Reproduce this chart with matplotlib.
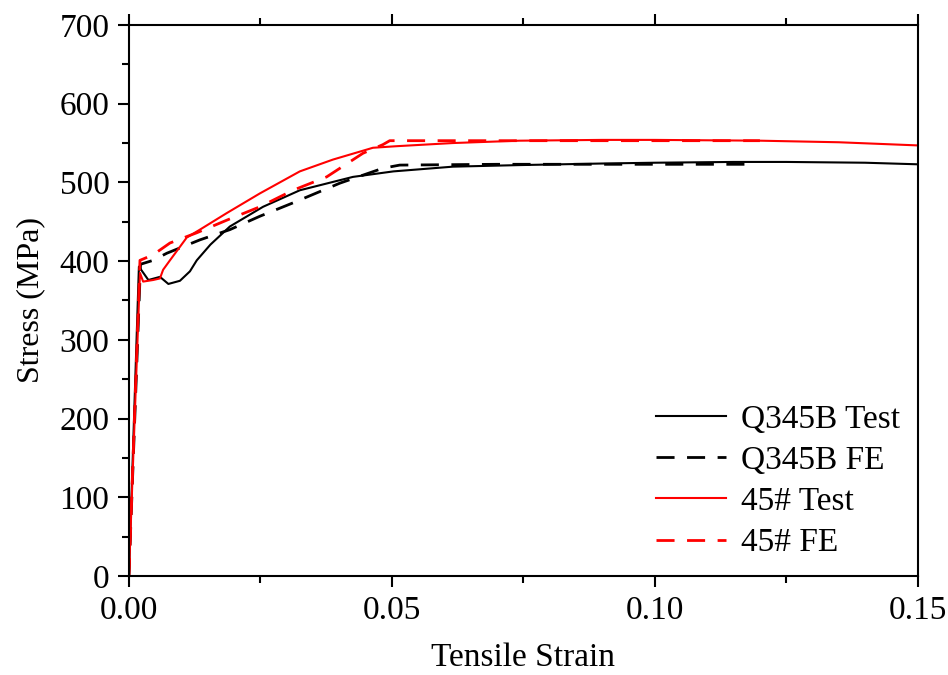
import numpy as np
import matplotlib
matplotlib.use("Agg")
import matplotlib.pyplot as plt
from matplotlib.ticker import MultipleLocator

# data (strain, stress in MPa)
q345_test_strain = [0.0, 0.0019, 0.0037, 0.0059, 0.0075, 0.0097, 0.0116, 0.0129,
                    0.0155, 0.0192, 0.0255, 0.0325, 0.0426, 0.0503, 0.0616, 0.0743,
                    0.0900, 0.1000, 0.1150, 0.1250, 0.1400, 0.1500]
q345_test_stress = [0, 393, 376, 380, 371, 375, 387, 401,
                    421, 444, 469, 490, 507, 514, 520, 522,
                    524, 525, 526, 526, 525, 523]

q345_fe_strain = [0.0, 0.0022, 0.0046, 0.0072, 0.0135, 0.0192, 0.0249, 0.0312,
                  0.0401, 0.0483, 0.0515, 0.0700, 0.0900, 0.1183]
q345_fe_stress = [0, 396, 401, 410, 427, 440, 457, 474,
                  499, 518, 522, 523, 523, 523]

s45_test_strain = [0.0, 0.0021, 0.0027, 0.0046, 0.0059, 0.0065, 0.0078, 0.0110,
                   0.0135, 0.0186, 0.0249, 0.0325, 0.0388, 0.0464, 0.0509,
                   0.0616, 0.0743, 0.0900, 0.1000, 0.1200, 0.1350, 0.1500]
s45_test_stress = [0, 385, 374, 376, 378, 389, 401, 430,
                   440, 461, 486, 514, 529, 544, 546,
                   550, 553, 554, 554, 553, 551, 547]

s45_fe_strain = [0.0, 0.0021, 0.0046, 0.0078, 0.0129, 0.0186, 0.0249, 0.0312,
                 0.0376, 0.0445, 0.0483, 0.0496, 0.0700, 0.0900, 0.1200]
s45_fe_stress = [0, 401, 408, 423, 436, 452, 469, 490,
                 507, 537, 548, 553, 553, 553, 553]

x_ticks = [0, 0.05, 0.10, 0.15]
x_tick_labels = ['0.00', '0.05', '0.10', '0.15']

plt.rcParams['font.family'] = ['Liberation Serif', 'DejaVu Serif']

fig = plt.figure(figsize=(9.48, 6.75), dpi=100)
ax = fig.add_axes([0.136, 0.1467, 0.832, 0.8163])

lw = 1.5
dlw = 2.0
ax.plot(q345_test_strain, q345_test_stress, color='black', lw=lw, label='Q345B Test')
ax.plot(q345_fe_strain, q345_fe_stress, color='black', lw=dlw, dashes=(6.5, 4.5), label='Q345B FE')
ax.plot(s45_test_strain, s45_test_stress, color='red', lw=lw, label='45# Test')
ax.plot(s45_fe_strain, s45_fe_stress, color='red', lw=dlw, dashes=(6.5, 4.5), label='45# FE')

ax.set_xlim(0, 0.15)
ax.set_ylim(0, 700)
ax.set_xticks(x_ticks)
ax.set_xticklabels(x_tick_labels)
ax.xaxis.set_minor_locator(MultipleLocator(0.025))
ax.yaxis.set_major_locator(MultipleLocator(100))
ax.yaxis.set_minor_locator(MultipleLocator(50))

for sp in ax.spines.values():
    sp.set_linewidth(1.5)
ax.tick_params(which='both', direction='out', width=1.5, labelsize=24,
               top=True, right=False, labeltop=False)
ax.tick_params(which='major', length=8, pad=6)
ax.tick_params(which='minor', length=5)

ax.set_xlabel('Tensile Strain', fontsize=24, labelpad=12)
ax.set_ylabel('Stress (MPa)', fontsize=23, labelpad=10)

ax.legend(loc='lower right', frameon=False, fontsize=24, handlelength=2.1,
          handletextpad=0.45, labelspacing=0.32, borderaxespad=0.13,
          bbox_to_anchor=(1.0, 0.0))

fig.savefig('out.png', dpi=100)
